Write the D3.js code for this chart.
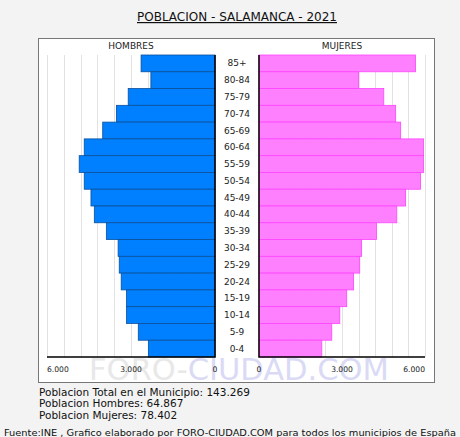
<!DOCTYPE html>
<html>
<head>
<meta charset="utf-8">
<script src="https://cdn.jsdelivr.net/npm/d3@7"></script>
<style>
  body { margin: 0; background: #f3f3f3; }
  svg { display: block; font-family: "DejaVu Sans", Verdana, sans-serif; }
</style>
</head>
<body>
<div id="chart"></div>
<script>
// Age groups, top to bottom
const ageGroups = ["85+", "80-84", "75-79", "70-74", "65-69", "60-64", "55-59", "50-54", "45-49",
  "40-44", "35-39", "30-34", "25-29", "20-24", "15-19", "10-14", "5-9", "0-4"];

// Population by age group
const hombres = [2640, 2290, 3100, 3520, 4010, 4670, 4850, 4670, 4430,
  4310, 3880, 3460, 3420, 3350, 3160, 3160, 2740, 2380];
const mujeres = [5660, 3600, 4510, 4940, 5120, 5950, 5950, 5840, 5300,
  4980, 4250, 3710, 3640, 3420, 3170, 2920, 2630, 2270];

const tickValues = [0, 3000, 6000];
const gridValues = d3.range(0, 6001, 600);

const summaryLines = [
  "Poblacion Total en el Municipio: 143.269",
  "Poblacion Hombres: 64.867",
  "Poblacion Mujeres: 78.402"
];

const width = 460, height = 437;
const fmt = d => d3.format(",")(d).replace(/,/g, ".");

const svg = d3.select("#chart").append("svg")
  .attr("width", width)
  .attr("height", height);

svg.append("rect")
  .attr("width", width).attr("height", height)
  .attr("fill", "#f3f3f3");

// Title
svg.append("text")
  .attr("x", 237).attr("y", 21)
  .attr("text-anchor", "middle")
  .style("font-size", "12px")
  .style("text-decoration", "underline")
  .attr("fill", "#111")
  .text("POBLACION - SALAMANCA - 2021");

// White panel
svg.append("rect")
  .attr("x", 38.5).attr("y", 38.5)
  .attr("width", 396).attr("height", 344)
  .attr("fill", "#fff")
  .attr("stroke", "#777");

// Watermark (behind the chart)
const wm = svg.append("text")
  .attr("x", 239).attr("y", 380)
  .attr("text-anchor", "middle")
  .style("font-size", "30.5px");
wm.append("tspan").attr("fill", "#e8e8e8").text("FORO-");
wm.append("tspan").attr("fill", "#dadaf5").text("CIUDAD.COM");

// Scales
const barTop = 55, barBottom = 357;
const y = d3.scaleBand().domain(ageGroups).range([barTop, barBottom]).padding(0);
const xM = d3.scaleLinear().domain([0, 6000]).range([215, 47]);
const xF = d3.scaleLinear().domain([0, 6000]).range([259, 425]);

// Grid lines
svg.append("g")
  .selectAll("line").data(gridValues).join("line")
  .attr("x1", d => Math.round(xM(d)) + 0.5).attr("x2", d => Math.round(xM(d)) + 0.5)
  .attr("y1", barTop).attr("y2", barBottom)
  .attr("stroke", "#e2e2e2");
svg.append("g")
  .selectAll("line").data(gridValues).join("line")
  .attr("x1", d => Math.round(xF(d)) + 0.5).attr("x2", d => Math.round(xF(d)) + 0.5)
  .attr("y1", barTop).attr("y2", barBottom)
  .attr("stroke", "#e2e2e2");

// Bars
svg.append("g")
  .selectAll("rect").data(hombres).join("rect")
  .attr("x", d => xM(d))
  .attr("y", (d, i) => y(ageGroups[i]))
  .attr("width", d => xM(0) - xM(d))
  .attr("height", y.bandwidth())
  .attr("fill", "#0080ff")
  .attr("stroke", "#0a4f99")
  .attr("stroke-width", 0.8);

svg.append("g")
  .selectAll("rect").data(mujeres).join("rect")
  .attr("x", xF(0))
  .attr("y", (d, i) => y(ageGroups[i]))
  .attr("width", d => xF(d) - xF(0))
  .attr("height", y.bandwidth())
  .attr("fill", "#ff80ff")
  .attr("stroke", "#ff44ff")
  .attr("stroke-width", 0.8);

// Axis lines
svg.append("path")
  .attr("d", `M${xM(0)},${barTop}V${barBottom}H${xM(6000)}`)
  .attr("fill", "none").attr("stroke", "#000").attr("stroke-width", 1.5);
svg.append("path")
  .attr("d", `M${xF(0)},${barTop}V${barBottom}H${xF(6000)}`)
  .attr("fill", "none").attr("stroke", "#000").attr("stroke-width", 1.5);

// Age labels
svg.append("g")
  .selectAll("text").data(ageGroups).join("text")
  .attr("x", 237)
  .attr("y", d => y(d) + y.bandwidth() / 2 + 3)
  .attr("text-anchor", "middle")
  .style("font-size", "9px")
  .attr("fill", "#222")
  .text(d => d);

// Side headings
svg.append("text").attr("x", xM(3000)).attr("y", 49)
  .attr("text-anchor", "middle").style("font-size", "9px").attr("fill", "#222")
  .text("HOMBRES");
svg.append("text").attr("x", xF(3000)).attr("y", 49)
  .attr("text-anchor", "middle").style("font-size", "9px").attr("fill", "#222")
  .text("MUJERES");

// Tick labels
svg.append("g")
  .selectAll("text").data(tickValues).join("text")
  .attr("x", d => xM(d))
  .attr("y", 372)
  .attr("text-anchor", d => d === 6000 ? "start" : "middle")
  .style("font-size", "7.6px")
  .attr("fill", "#222")
  .text(fmt);
svg.append("g")
  .selectAll("text").data(tickValues).join("text")
  .attr("x", d => xF(d))
  .attr("y", 372)
  .attr("text-anchor", d => d === 6000 ? "end" : "middle")
  .style("font-size", "7.6px")
  .attr("fill", "#222")
  .text(fmt);

// Summary
svg.append("g")
  .selectAll("text").data(summaryLines).join("text")
  .attr("x", 39)
  .attr("y", (d, i) => 395.5 + i * 11.7)
  .style("font-size", "10.5px")
  .attr("fill", "#111")
  .text(d => d);

// Footer
svg.append("text")
  .attr("x", 4).attr("y", 436)
  .attr("textLength", 452)
  .attr("lengthAdjust", "spacingAndGlyphs")
  .style("font-size", "8.5px")
  .attr("fill", "#111")
  .text("Fuente:INE , Grafico elaborado por FORO-CIUDAD.COM para todos los municipios de España");
</script>
</body>
</html>
